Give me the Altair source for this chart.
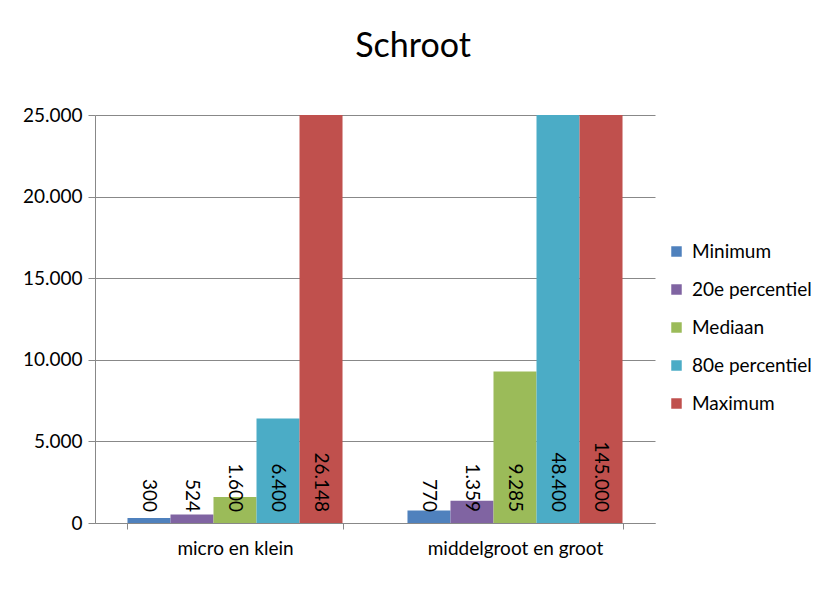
import altair as alt
import pandas as pd

categories = ["micro en klein", "middelgroot en groot"]
series = ["Minimum", "20e percentiel", "Mediaan", "80e percentiel", "Maximum"]
values_micro = [300, 524, 1600, 6400, 26148]
values_groot = [770, 1359, 9285, 48400, 145000]
colors = ["#4F81BD", "#8064A2", "#9BBB59", "#4BACC6", "#C0504D"]

rows = []
for cat, vals in zip(categories, [values_micro, values_groot]):
    for i, (s, v) in enumerate(zip(series, vals)):
        rows.append({"cat": cat, "serie": s, "order": i, "value": v, "zero": 0})
df = pd.DataFrame(rows)

FONT = "Lato"

x = alt.X("cat:N", sort=categories, title=None,
          scale=alt.Scale(paddingInner=0.232, paddingOuter=0.116),
          axis=alt.Axis(labelAngle=0, labelFontSize=19, labelFont=FONT, labelColor="#000000",
                        domainColor="#888888", tickColor="#888888", tickBand="extent",
                        tickSize=6, labelPadding=10, grid=False))
xoff = alt.XOffset("serie:N", sort=series, scale=alt.Scale(paddingInner=0, paddingOuter=0))

bars = alt.Chart(df).mark_bar(clip=True).encode(
    x=x,
    xOffset=xoff,
    y=alt.Y("value:Q", title=None,
            scale=alt.Scale(domain=[0, 25000], clamp=True, nice=False),
            axis=alt.Axis(values=[0, 5000, 10000, 15000, 20000, 25000],
                          labelExpr="replace(format(datum.value, ','), ',', '.')",
                          labelFontSize=19, labelFont=FONT, labelColor="#000000",
                          gridColor="#888888", domainColor="#888888", tickColor="#888888",
                          tickSize=7, labelPadding=6)),
    color=alt.Color("serie:N", sort=series,
                    scale=alt.Scale(domain=series, range=colors),
                    legend=alt.Legend(title=None, orient="none", legendX=572, legendY=127,
                                      symbolType="square", symbolSize=110, symbolStrokeWidth=0,
                                      labelFontSize=19, labelFont=FONT, labelColor="#000000",
                                      rowPadding=18, labelOffset=6)),
)

labels = alt.Chart(df).transform_calculate(
    lbl="replace(format(datum.value, ','), ',', '.')"
).mark_text(angle=90, align="right", baseline="middle", fontSize=19, font=FONT,
            color="#000000", dx=-11).encode(
    x=alt.X("cat:N", sort=categories),
    xOffset=alt.XOffset("serie:N", sort=series),
    y=alt.Y("zero:Q"),
    text="lbl:N",
)

chart = alt.layer(bars, labels).properties(
    width=560, height=408,
    autosize=alt.AutoSizeParams(type="none"),
    padding={"left": 87, "top": 107, "right": 160, "bottom": 60},
    title=alt.TitleParams("Schroot", fontSize=34, font=FONT, fontWeight="normal",
                          color="#000000", anchor="middle", dx=38, offset=15,
                          baseline="alphabetic"),
).configure_view(stroke=None)

chart.save("out.html", embed_options={"renderer": "svg", "actions": False})
